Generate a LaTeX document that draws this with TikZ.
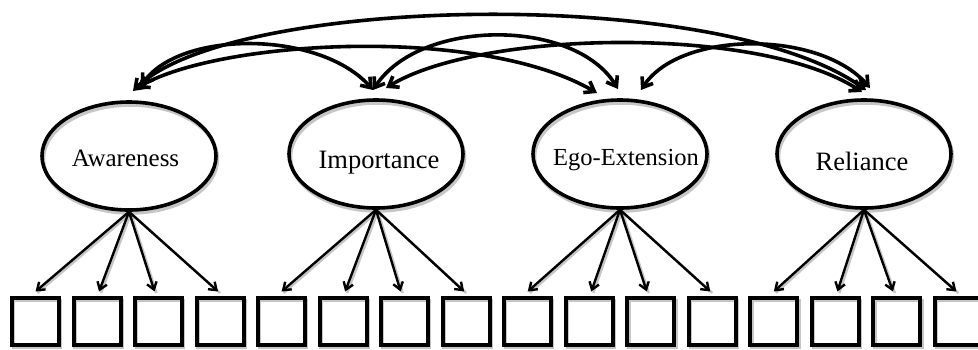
\documentclass[tikz,border=0pt]{standalone}
\usepackage{fontspec}
\setmainfont{Liberation Serif}
\usetikzlibrary{arrows.meta,shapes.geometric,calc}
\begin{document}
\begin{tikzpicture}[x=1pt,y=-1pt,
  shadowed/.style={preaction={draw=gray!45, line width=3.5pt,
      transform canvas={xshift=1.5pt,yshift=-3pt}}},
  factor/.style={ellipse, draw, line width=3.6pt, minimum width=174pt,
      minimum height=108pt, inner sep=0pt, shadowed},
  lab/.style={anchor=base, inner sep=0pt},
  item/.style={rectangle, draw, line width=4pt, minimum size=47pt,
      inner sep=0pt, shadowed},
  cov/.style={line width=3.6pt,
      {Straight Barb[length=9pt,width=13pt]}-{Straight Barb[length=9pt,width=13pt]}},
  load/.style={line width=2.4pt, -{Straight Barb[length=7pt,width=10pt]}},
  loadshade/.style={line width=2.4pt, draw=gray!45},
]
\useasboundingbox (0,0) rectangle (978,349);

% latent factors
\node[factor] (aw) at (129,156) {};
\node[factor] (im) at (376,154) {};
\node[factor] (eg) at (620,154) {};
\node[factor] (re) at (864,154) {};

% factor names
\node[lab] (awt) at ($(aw.center)+(-3.5,10)$) {\fontsize{25}{28}\selectfont Awareness};
\node[lab] (imt) at ($(im.center)+(3,14)$) {\fontsize{26.5}{30}\selectfont Importance};
\node[lab] (egt) at ($(eg.center)+(6,11)$) {\fontsize{24.5}{28}\selectfont Ego-Extension};
\node[lab] (ret) at ($(re.center)+(-2,16)$) {\fontsize{26.5}{30}\selectfont Reliance};

% observed indicators
\foreach \i in {1,...,16}
  \node[item] (s\i) at ({35.5+61.53*(\i-1)},321) {};

% tips of the covariance arcs above the factors
\coordinate (awA) at (133,91);
\coordinate (awB) at (137,88);
\coordinate (awC) at (141,86);
\coordinate (imA) at (373,90);
\coordinate (imB) at (386,88);
\coordinate (egA) at (597,93);
\coordinate (egB) at (618,89);
\coordinate (egC) at (641,90);
\coordinate (reA) at (866,90);
\coordinate (reB) at (862,92);
\coordinate (reC) at (870,88);

% loading shadows
\begin{scope}[transform canvas={xshift=2pt,yshift=-1.5pt}]
  \foreach \f/\a/\b/\c/\d in {aw/1/2/3/4, im/5/6/7/8, eg/9/10/11/12, re/13/14/15/16} {
    \draw[loadshade] (\f.south) -- ([yshift=4pt]s\a.north);
    \draw[loadshade] (\f.south) -- ([xshift=2pt,yshift=4pt]s\b.north);
    \draw[loadshade] (\f.south) -- ([xshift=-4pt,yshift=4pt]s\c.north);
    \draw[loadshade] (\f.south) -- ([xshift=-2pt,yshift=4pt]s\d.north);
  }
\end{scope}

% factor loadings
\foreach \f/\a/\b/\c/\d in {aw/1/2/3/4, im/5/6/7/8, eg/9/10/11/12, re/13/14/15/16} {
  \draw[load] (\f.south) -- ([yshift=4pt]s\a.north);
  \draw[load] (\f.south) -- ([xshift=2pt,yshift=4pt]s\b.north);
  \draw[load] (\f.south) -- ([xshift=-4pt,yshift=4pt]s\c.north);
  \draw[load] (\f.south) -- ([xshift=-2pt,yshift=4pt]s\d.north);
}

% covariances between factors
\draw[cov] (awA) .. controls (230,-5) and (720,-15) .. (reA);
\draw[cov] (awB) .. controls (220,40) and (480,25) .. (egA);
\draw[cov] (awC) .. controls (180,30) and (320,30) .. (imA);
\draw[cov] (imA) .. controls (420,18) and (575,18) .. (egB);
\draw[cov] (imB) .. controls (480,30) and (760,25) .. (reB);
\draw[cov] (egC) .. controls (680,30) and (820,30) .. (reC);
\end{tikzpicture}
\end{document}
